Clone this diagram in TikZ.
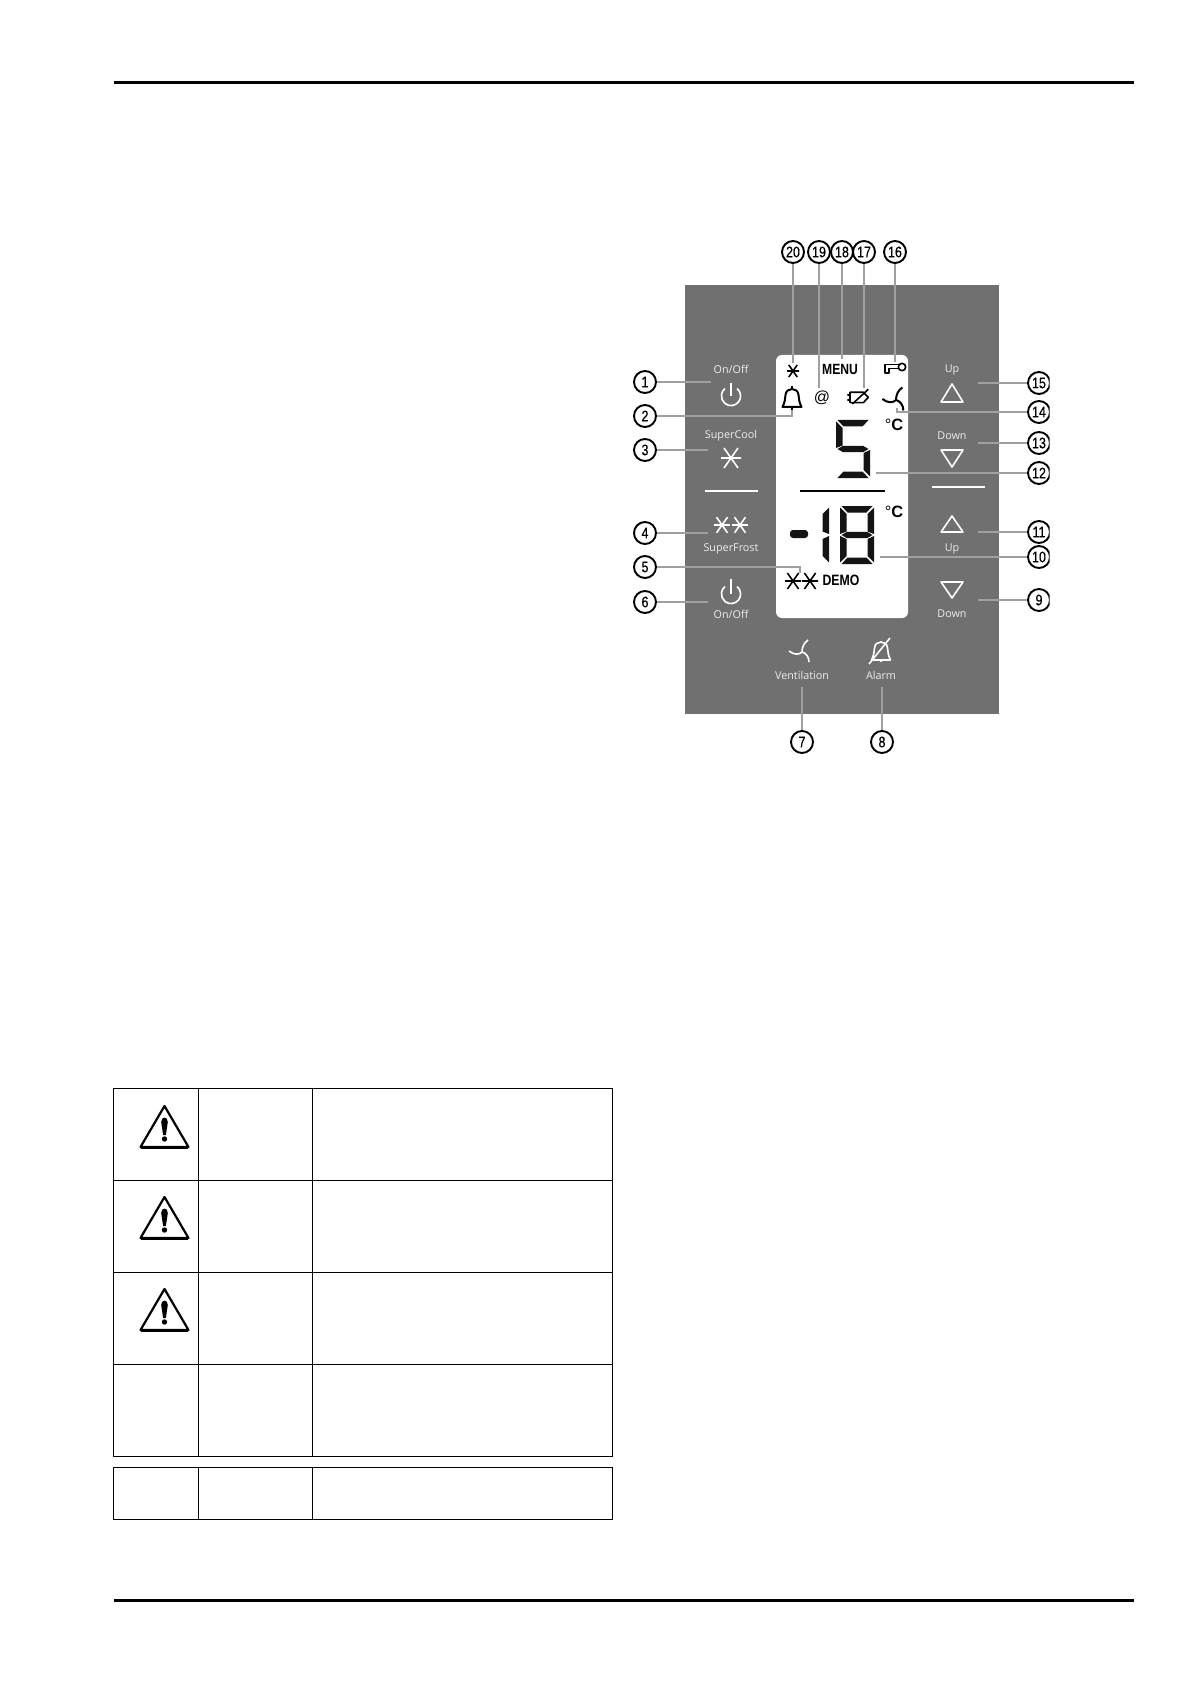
\documentclass[tikz,border=0pt]{standalone}
\usepackage{fontspec}
\setmainfont{Open Sans}
\newfontfamily\numf[FakeStretch=0.82,FakeBold=0.5]{Liberation Sans}
\newfontfamily\lcdf[FakeStretch=0.82]{Liberation Sans Bold}
\newfontfamily\plainf{Liberation Sans}
\definecolor{panelgrey}{HTML}{707070}
\definecolor{connect}{HTML}{A0A0A0}
\definecolor{labelw}{HTML}{EDEDED}
\definecolor{segdark}{HTML}{141414}
\tikzset{
  x=0.5pt,y=-0.5pt,
  num/.style={circle,draw=black,line width=.95pt,fill=white,minimum size=11pt,inner sep=0pt,font=\numf\fontsize{7.6}{7.6}\selectfont},
  conn/.style={draw=connect,line width=.8pt},
  lab/.style={inner sep=0pt,text=labelw,font=\fontsize{5.4}{6}\selectfont},
  rulew/.style={draw=white,line width=.9pt},
  iconw/.style={draw=white,line width=.8pt,line join=round},
  iconb/.style={draw=black,line width=.8pt,line join=round},
  tablel/.style={draw=black,line width=.45pt},
  pstar/.pic={\draw (-10,0)--(10,0) (-7,-10)--(7,10) (-7,10)--(7,-10);},
  ppower/.pic={\draw (6.04,-7.46) arc[start angle=-51,end angle=231,radius=9.6];},
  pbell/.pic={\draw (-9.5,9) .. controls (-7,4) and (-7,1) .. (-6.5,-3) .. controls (-6,-11) and (6,-11) .. (6.5,-3) .. controls (7,1) and (7,4) .. (9.5,9) -- cycle;},
  pfan/.pic={\draw (-13,-1) .. controls (-8,3) and (-3,3) .. (0,0) .. controls (0,-5) and (2,-9) .. (6,-12) (0,0) .. controls (4,1) and (7,5) .. (7,10);},
  segtop/.pic={\fill[segdark] (1.5,0)--(32.5,0)--(26.5,6.5)--(7.5,6.5)--cycle;},
  segul/.pic={\fill[segdark] (0,1.5)--(6.5,8)--(6.5,25.5)--(0,28)--cycle;},
  segur/.pic={\fill[segdark] (34,1.5)--(34,28)--(27.5,25.5)--(27.5,8)--cycle;},
  segmid/.pic={\fill[segdark] (1.5,29)--(7,25.8)--(27,25.8)--(32.5,29)--(27,32.2)--(7,32.2)--cycle;},
  segll/.pic={\fill[segdark] (0,30)--(6.5,33)--(6.5,50)--(0,56.5)--cycle;},
  seglr/.pic={\fill[segdark] (34,30)--(34,56.5)--(27.5,50)--(27.5,33)--cycle;},
  segbot/.pic={\fill[segdark] (1.5,58)--(7.5,51.5)--(26.5,51.5)--(32.5,58)--cycle;},
  pwarn/.pic={
    \draw[line width=1.1pt,line join=round] (0,0)--(24,41)--(-24,41)--cycle;
    \draw[line width=1.3pt,line cap=round] (-23,41.5)--(23,41.5);
    \fill (-3.3,16) .. controls (-3.3,10) and (3.3,10) .. (3.3,16) -- (1.4,29) -- (-1.4,29) -- cycle;
    \fill (0,33) circle[radius=2.7];
  }
}
\begin{document}
\begin{tikzpicture}
\useasboundingbox (0,0) rectangle (1191,1684);
% page rules
\draw[line width=1.5pt] (114,83)--(1134,83);
\draw[line width=1.5pt] (114,1600)--(1134,1600);
% panel and display
\fill[panelgrey] (685,285) rectangle (999,714);
\fill[white,rounded corners=3pt] (776,355) rectangle (908,618);
% separators
\draw[rulew] (705,491)--(758,491);
\draw[rulew,line width=.7pt] (932,487)--(985,487);
\draw[line width=1pt] (800,491)--(885,491);
% left keys
\node[lab] (lOnA) at (731,369) {On/Off};
\node[lab] (lCool) at (731,436) {SuperCool};
\node[lab] (lFrost) at (731,549) {SuperFrost};
\node[lab] (lOnB) at (731,614) {On/Off};
\pic[iconw] at (731,396) {ppower};
\draw[iconw] (731,383)--(731,396);
\pic[iconw] at (731,594) {ppower};
\draw[iconw] (731,579)--(731,594);
\pic[iconw] at (731,458) {pstar};
\pic[iconw,scale=.78] at (722,525) {pstar};
\pic[iconw,scale=.78] at (740,525) {pstar};
% right keys
\node[lab] (rUpA) at (952,370) {Up};
\node[lab] (rDownA) at (952,436) {Down};
\node[lab] (rUpB) at (952,549) {Up};
\node[lab] (rDownB) at (952,614) {Down};
\draw[iconw] (952,384)--(963,402)--(941,402)--cycle;
\draw[iconw] (941,450)--(963,450)--(952,467)--cycle;
\draw[iconw] (952,516)--(963,532)--(941,532)--cycle;
\draw[iconw] (941,582)--(963,582)--(952,598)--cycle;
% bottom keys
\pic[iconw] at (802,652) {pfan};
\node[lab] (lVent) at (802,675) {Ventilation};
\pic[iconw] at (881,651) {pbell};
\draw[iconw] (869,664)--(890,638);
\draw[iconw] (881,660)--(881,662);
\node[lab] (lAlarm) at (881,675) {Alarm};
% display icons
\pic[iconb,scale=.6] at (793,371) {pstar};
\node[inner sep=0pt,font=\lcdf\fontsize{7.4}{8}\selectfont] (menu) at (840,369) {MENU};
\draw[iconb] (902,367) circle[radius=3.7];
\draw[iconb] (898.5,364.5)--(885,364.5)--(885,373)--(889,373)--(889,368.5)--(898.5,368.5);
\pic[iconb,line width=1pt] at (792,398) {pbell};
\draw[iconb,line width=1pt] (792,386)--(792,389) (792,407)--(792,410);
\node[inner sep=0pt,font=\plainf\fontsize{8}{8}\selectfont] (at) at (822,398) {@};
\draw[iconb] (850,392.3)--(863.3,392.3)--(868.3,397.3)--(863.3,402.7)--(850,402.7)--cycle;
\draw[iconb] (847.3,395)--(850,395) (847.3,400)--(850,400) (852.3,404)--(868.3,389.3);
\pic[iconb,line width=1pt,scale=1.05] at (896,400) {pfan};
% digit 5
\begin{scope}[shift={(836,420)}]
\pic at (0,0) {segtop};\pic at (0,0) {segul};\pic at (0,0) {segmid};\pic at (0,0) {seglr};\pic at (0,0) {segbot};
\end{scope}
% -18
\fill[segdark,rounded corners=1.5pt] (790,530) rectangle (808,538);
\begin{scope}[shift={(795,506)}]
\pic at (0,0) {segur};\pic at (0,0) {seglr};
\end{scope}
\begin{scope}[shift={(840,506)}]
\pic at (0,0) {segtop};\pic at (0,0) {segul};\pic at (0,0) {segur};\pic at (0,0) {segmid};\pic at (0,0) {segll};\pic at (0,0) {seglr};\pic at (0,0) {segbot};
\end{scope}
\node[inner sep=0pt,font=\plainf\fontsize{8.2}{8}\selectfont] (degA) at (894,425) {°\textbf{C}};
\node[inner sep=0pt,font=\plainf\fontsize{8.2}{8}\selectfont] (degB) at (894,512) {°\textbf{C}};
\pic[iconb,scale=.8] at (793,581) {pstar};
\pic[iconb,scale=.8] at (810,581) {pstar};
\node[inner sep=0pt,font=\lcdf\fontsize{7.5}{8}\selectfont] (demo) at (841,580) {DEMO};
% numbered callouts
\begin{scope}
\clip (0,0) rectangle (1049.5,1684);
\coordinate (e1) at (711,382);
\coordinate (e2) at (792,410);
\coordinate (e3) at (708,450);
\coordinate (e4) at (708,533);
\coordinate (e5) at (800,573);
\coordinate (e6) at (708,602);
\coordinate (e7) at (802,687);
\coordinate (e8) at (882,687);
\coordinate (e9) at (978,600);
\coordinate (e10) at (880,557);
\coordinate (e11) at (978,532);
\coordinate (e12) at (876,473);
\coordinate (e13) at (978,443);
\coordinate (e14) at (897,408);
\coordinate (e15) at (978,383);
\coordinate (e16) at (895,362);
\coordinate (e17) at (864,388);
\coordinate (e18) at (842,359);
\coordinate (e19) at (819,388);
\coordinate (e20) at (793,363);
\node[num] (c1) at (645,382) {1};
\node[num] (c2) at (645,416) {2};
\node[num] (c3) at (645,450) {3};
\node[num] (c4) at (645,533) {4};
\node[num] (c5) at (645,567) {5};
\node[num] (c6) at (645,602) {6};
\node[num] (c7) at (802,742) {7};
\node[num] (c8) at (882,742) {8};
\node[num] (c9) at (1039,600) {9};
\node[num] (c10) at (1039,557) {10};
\node[num] (c11) at (1039,532) {11};
\node[num] (c12) at (1039,473) {12};
\node[num] (c13) at (1039,443) {13};
\node[num] (c14) at (1039,412) {14};
\node[num] (c15) at (1039,383) {15};
\node[num] (c16) at (895,252) {16};
\node[num] (c17) at (864,252) {17};
\node[num] (c18) at (842,252) {18};
\node[num] (c19) at (819,252) {19};
\node[num] (c20) at (793,252) {20};
\draw[conn] (c1)--(e1);
\draw[conn] (c2)-|(e2);
\draw[conn] (c3)--(e3);
\draw[conn] (c4)--(e4);
\draw[conn] (c5)-|(e5);
\draw[conn] (c6)--(e6);
\draw[conn] (c7)--(e7);
\draw[conn] (c8)--(e8);
\draw[conn] (c9)--(e9);
\draw[conn] (c10)--(e10);
\draw[conn] (c11)--(e11);
\draw[conn] (c12)--(e12);
\draw[conn] (c13)--(e13);
\draw[conn] (c14)-|(e14);
\draw[conn] (c15)--(e15);
\draw[conn] (c16)--(e16);
\draw[conn] (c17)--(e17);
\draw[conn] (c18)--(e18);
\draw[conn] (c19)--(e19);
\draw[conn] (c20)--(e20);
\end{scope}
% table
\draw[tablel] (113.5,1088) rectangle (612,1456);
\draw[tablel] (113.5,1180)--(612,1180) (113.5,1272)--(612,1272) (113.5,1364)--(612,1364);
\draw[tablel] (198,1088)--(198,1456) (312,1088)--(312,1456);
\draw[tablel] (113.5,1467) rectangle (612,1519);
\draw[tablel] (198,1467)--(198,1519) (312,1467)--(312,1519);
\pic at (164.5,1106) {pwarn};
\pic at (164.5,1197) {pwarn};
\pic at (164.5,1289) {pwarn};
\end{tikzpicture}
\end{document}
